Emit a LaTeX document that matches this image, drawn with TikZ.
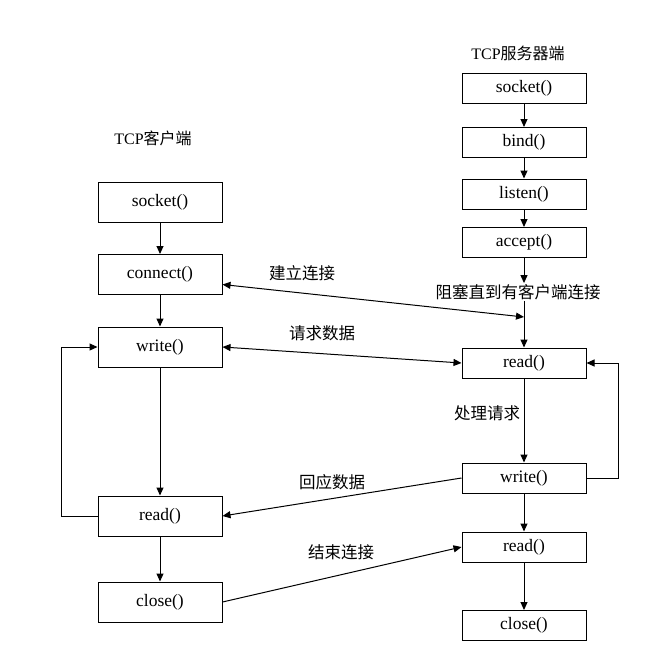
\documentclass[tikz,border=0pt]{standalone}
\usepackage{fontspec}
\setmainfont{Liberation Serif}
\newfontfamily\cjk{Noto Sans CJK SC}
\usetikzlibrary{arrows.meta,calc}
\tikzset{
  fbox/.style={draw, line width=1pt, minimum width=124pt, inner sep=0pt, font=\fontsize{17.5}{19}\selectfont},
  cbox/.style={fbox, minimum height=40pt},
  sbox/.style={fbox, minimum height=30pt},
  lbl/.style={inner sep=1pt, font=\cjk\fontsize{16.5}{19}\selectfont},
  ttl/.style={inner sep=1pt, font=\fontsize{16}{18}\selectfont},
  conn/.style={line width=1pt, -{Triangle[length=8pt,width=7pt]}},
  conn2/.style={line width=1pt, {Triangle[length=8pt,width=7pt]}-{Triangle[length=8pt,width=7pt]}},
}
\begin{document}
\begin{tikzpicture}[x=1pt,y=-1pt]
\useasboundingbox (0,0) rectangle (671,658);
% titles
\node[ttl] (tcli) at (153,138) {TCP{\cjk 客户端}};
\node[ttl] (tsrv) at (518,53) {TCP{\cjk 服务器端}};
% client
\node[cbox] (csock) at (160,202) {socket()};
\node[cbox] (cconn) at (160,274.5) {connect()};
\node[cbox] (cwrite) at (160,347) {write()};
\node[cbox] (cread) at (160,516) {read()};
\node[cbox] (cclose) at (160,602) {close()};
% server
\node[sbox] (ssock) at (524,88.5) {socket()};
\node[sbox] (sbind) at (524,142.5) {bind()};
\node[sbox] (slisten) at (524,194) {listen()};
\node[sbox] (saccept) at (524,242.5) {accept()};
\node[lbl] (block) at (518,292) {阻塞直到有客户端连接};
\node[sbox] (sread) at (524,363) {read()};
\node[sbox] (swrite) at (524,478) {write()};
\node[sbox] (sread2) at (524,547) {read()};
\node[sbox] (sclose) at (524,625.5) {close()};
% labels
\node[lbl] (l1) at (302,273) {建立连接};
\node[lbl] (l2) at (322,333) {请求数据};
\node[lbl] (l3) at (332,482) {回应数据};
\node[lbl] (l4) at (341,552) {结束连接};
\node[lbl] (l5) at (487,413) {处理请求};
% client vertical
\draw[conn] (csock) -- (cconn);
\draw[conn] (cconn) -- (cwrite);
\draw[conn] (cwrite) -- (cread);
\draw[conn] (cread) -- (cclose);
\draw[conn] (cread.west) -- ++(-36,0) |- (cwrite.west);
% server vertical
\draw[conn] (ssock) -- (sbind);
\draw[conn] (sbind) -- (slisten);
\draw[conn] (slisten) -- (saccept);
\draw[conn] (saccept.south) -- (saccept.south |- block.north);
\draw[conn] (saccept.south |- block.south) -- (sread.north);
\draw[conn] (sread) -- (swrite);
\draw[conn] (swrite) -- (sread2);
\draw[conn] (sread2) -- (sclose);
\draw[conn] (swrite.east) -- ++(32,0) |- (sread.east);
% cross connections
\coordinate (join) at (524,317);
\draw[conn2] ($(cconn.east)+(0,10)$) -- (join);
\draw[conn2] (cwrite.east) -- (sread.west);
\draw[conn] (swrite.west) -- (cread.east);
\draw[conn] (cclose.east) -- (sread2.west);
\end{tikzpicture}
\end{document}
